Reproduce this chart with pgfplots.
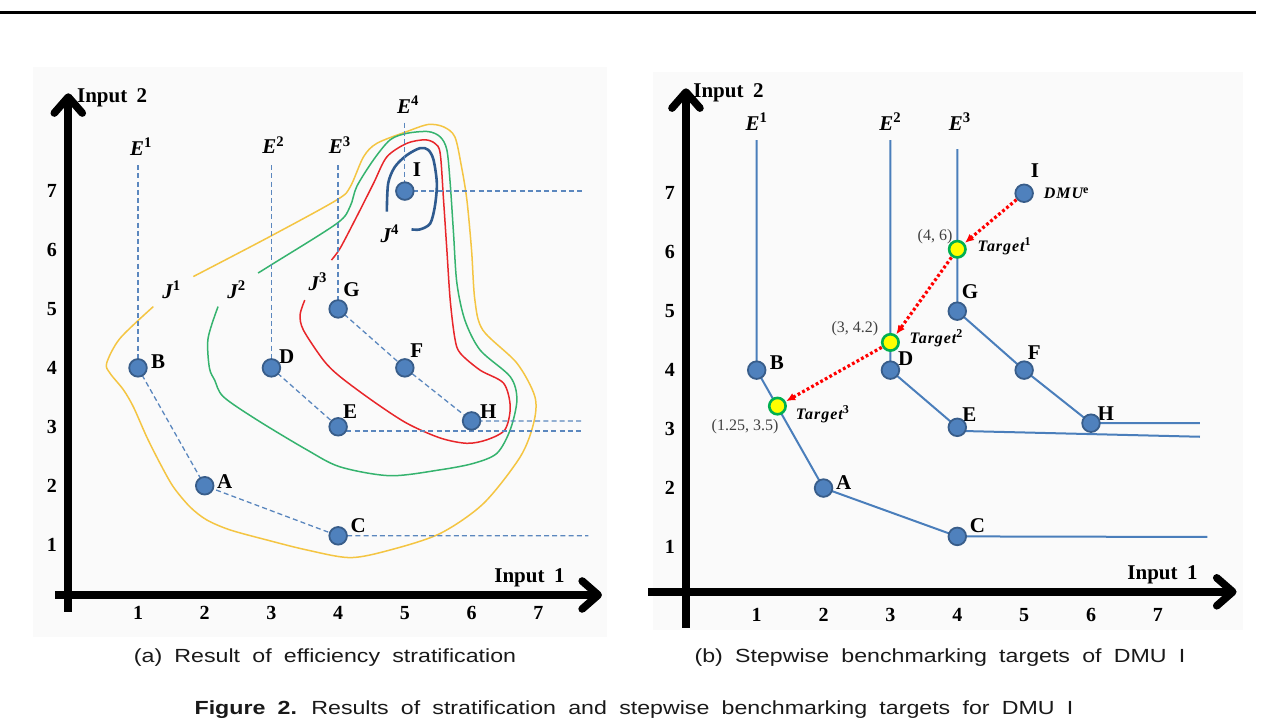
\documentclass[border=0pt]{standalone}
\usepackage{pgfplots}
\pgfplotsset{compat=1.18}
\usetikzlibrary{arrows.meta}
\usepackage{fontspec}
\setmainfont{Liberation Serif}
\newfontfamily\capfont{Liberation Sans}[FakeStretch=1.22, WordSpace=1.9]
\newfontfamily\tgtfont{Liberation Serif}[LetterSpace=6]
\definecolor{ptfill}{HTML}{4F81BD}
\definecolor{ptdraw}{HTML}{385D8A}
\definecolor{dashc}{HTML}{5B87BE}
\definecolor{lineb}{HTML}{4A7EBB}
\definecolor{cJa}{HTML}{F4C542}
\definecolor{cJb}{HTML}{35B36E}
\definecolor{cJc}{HTML}{E8262A}
\definecolor{cJd}{HTML}{2F5B8F}
\definecolor{bgc}{HTML}{FAFAFA}
\definecolor{tgfill}{HTML}{FFFF00}
\definecolor{tgdraw}{HTML}{00B050}
\newcommand\lbl{\fontsize{10.5}{12}\selectfont\bfseries}
\newcommand\elbl{\fontsize{10.5}{12}\selectfont\bfseries\itshape}
\newcommand\tlbl{\tgtfont\fontsize{8}{9.5}\selectfont\bfseries\itshape}
\newcommand\clbl{\fontsize{8}{9}\selectfont\color{black!75}}
\tikzset{bigax/.style={line width=3.8pt, -{Straight Barb[length=8pt,width=14pt,round]}}}
\pgfplotsset{
  panel/.style={scale only axis, xmin=0, xmax=8, ymin=0, ymax=9, clip=false,
    axis lines=left, axis line style={draw=none}, major tick length=0pt,
    xtick={1,...,7}, ytick={1,...,7},
    ticklabel style={font=\fontsize{10}{12}\selectfont\bfseries},
    /pgf/number format/assume math mode=true,
    xticklabel style={anchor=center}, yticklabel style={anchor=center},
    anchor=south west},
  pts/.style={only marks, mark=*, mark size=4.4pt,
    mark options={fill=ptfill, draw=ptdraw, line width=0.9pt}},
  tgt/.style={only marks, mark=*, mark size=4.1pt,
    mark options={fill=tgfill, draw=tgdraw, line width=1.3pt}},
  dsh/.style={dashc, line width=0.65pt, dash pattern=on 2.5pt off 1.6pt},
  sol/.style={lineb, line width=1pt},
  rarr/.style={red, line width=1.6pt, dash pattern=on 1.4pt off 1.2pt,
    -{Latex[length=4.5pt,width=4pt]}, shorten <=5pt, shorten >=5pt},
}
\begin{document}
\begin{tikzpicture}[x=0.5pt,y=0.5pt]
\path (0,0) rectangle (1275,727);
\fill (0,713) rectangle (1256,716);
\fill[bgc] (33,90) rectangle (607,660);
\fill[bgc] (653,97) rectangle (1243,655);

% ---------------- panel (a) ----------------
\begin{axis}[panel, at={(35.65pt,61.7pt)}, width=266.84pt, height=265.185pt,
  xticklabel style={yshift=-4.7pt}, yticklabel style={xshift=-9.65pt}]
\draw[bigax] (axis cs:-0.045,-0.14) -- (axis cs:-0.045,8.66);
\draw[bigax] (axis cs:-0.244,0.146) -- (axis cs:7.955,0.146);
% J curves
\addplot[cJa, line width=0.75pt, smooth] coordinates {
 (1.23,5.04) (0.73,4.50) (0.53,4.08) (0.58,3.91) (0.78,3.63) (0.93,3.34)
 (1.13,2.83) (1.33,2.38) (1.53,1.98) (1.78,1.64) (2.03,1.42) (2.38,1.25)
 (2.93,1.08) (3.53,0.91) (4.18,0.78) (4.78,0.91) (5.53,1.19) (6.18,1.70)
 (6.73,2.49) (6.93,3.06) (6.95,3.51) (6.68,4.08) (6.17,4.64) (6.05,5.15)
 (6.00,6.00) (5.93,6.85) (5.85,7.41) (5.75,7.92) (5.58,8.09) (5.35,8.13)
 (5.03,8.01) (4.58,7.81) (4.38,7.58) (4.18,7.07) (3.98,6.85) (2.98,6.23)
 (1.83,5.55)};
\addplot[cJb, line width=0.75pt, smooth] coordinates {
 (2.20,5.04) (2.05,4.50) (2.07,4.00) (2.15,3.79) (2.28,3.51) (2.78,3.12)
 (3.53,2.61) (4.03,2.32) (4.78,2.17) (5.53,2.27) (6.03,2.38) (6.38,2.55)
 (6.58,2.95) (6.68,3.46) (6.58,3.85) (6.13,4.30) (5.90,4.81) (5.78,5.44)
 (5.73,6.28) (5.68,7.13) (5.63,7.70) (5.53,7.92) (5.35,8.01) (5.03,7.98)
 (4.78,7.87) (4.53,7.53) (4.28,7.08) (4.18,6.74) (3.98,6.45) (3.00,5.75)
 (2.80,5.61)};
\addplot[cJc, line width=0.75pt, smooth] coordinates {
 (3.50,5.15) (3.43,4.90) (3.48,4.64) (3.78,4.13) (4.03,3.85) (4.53,3.43)
 (5.03,3.06) (5.53,2.81) (5.93,2.72) (6.23,2.78) (6.50,2.95) (6.58,3.34)
 (6.48,3.74) (6.13,3.96) (5.83,4.25) (5.75,4.50) (5.68,5.15) (5.63,6.00)
 (5.58,6.85) (5.53,7.64) (5.45,7.81) (5.30,7.87) (5.03,7.81) (4.73,7.58)
 (4.53,7.13) (4.28,6.57) (4.03,6.03) (3.90,5.83)};
\addplot[cJd, line width=1.3pt, smooth] coordinates {
 (4.73,6.65) (4.75,7.13) (4.85,7.41) (5.03,7.61) (5.23,7.73) (5.35,7.70)
 (5.43,7.53) (5.48,7.13) (5.45,6.74) (5.38,6.45) (5.23,6.35) (5.10,6.35)};
% dashed frontiers
\addplot[dsh] coordinates {(1,7.44) (1,4)};
\addplot[dsh] coordinates {(3,7.44) (3,4)};
\addplot[dsh] coordinates {(4,7.44) (4,5)};
\addplot[dsh] coordinates {(5,8.16) (5,7)};
\addplot[dsh] coordinates {(1,4) (2,2) (4,1.15) (7.75,1.15)};
\addplot[dsh] coordinates {(3,4) (4,3)};
\addplot[dsh] coordinates {(4,2.93) (7.67,2.93)};
\addplot[dsh] coordinates {(4,5) (5,4) (6,3.1) (7.67,3.1)};
\addplot[dsh] coordinates {(5,7) (7.67,7)};
% DMUs
\addplot[pts] coordinates {(2,2) (1,4) (4,1.15) (3,4) (4,3) (5,4) (4,5) (6,3.1) (5,7)};
% labels
\node[font=\lbl] at (axis cs:1.30,4.11) {B};
\node[font=\lbl] at (axis cs:2.30,2.07) {A};
\node[font=\lbl] at (axis cs:4.30,1.33) {C};
\node[font=\lbl] at (axis cs:3.23,4.19) {D};
\node[font=\lbl] at (axis cs:4.18,3.26) {E};
\node[font=\lbl] at (axis cs:5.18,4.30) {F};
\node[font=\lbl] at (axis cs:4.20,5.32) {G};
\node[font=\lbl] at (axis cs:6.25,3.26) {H};
\node[font=\lbl] at (axis cs:5.18,7.36) {I};
\node[font=\elbl] at (axis cs:1.05,7.75) {E\textsuperscript{\upshape 1}};
\node[font=\elbl] at (axis cs:3.03,7.78) {E\textsuperscript{\upshape 2}};
\node[font=\elbl] at (axis cs:4.03,7.78) {E\textsuperscript{\upshape 3}};
\node[font=\elbl] at (axis cs:5.05,8.46) {E\textsuperscript{\upshape 4}};
\node[font=\elbl] at (axis cs:1.505,5.32) {J\textsuperscript{\upshape 1}};
\node[font=\elbl] at (axis cs:2.48,5.32) {J\textsuperscript{\upshape 2}};
\node[font=\elbl] at (axis cs:3.70,5.46) {J\textsuperscript{\upshape 3}};
\node[font=\elbl] at (axis cs:4.78,6.28) {J\textsuperscript{\upshape 4}};
\node[font=\lbl, anchor=west, inner sep=0pt] at (axis cs:0.081,8.575) {Input\hspace{0.45em}2};
\node[font=\lbl, anchor=east, inner sep=0pt] at (axis cs:7.40,0.434) {Input\hspace{0.45em}1};
\end{axis}

% ---------------- panel (b) ----------------
\begin{axis}[panel, at={(344.925pt,60.51pt)}, width=267.44pt, height=265.32pt,
  xticklabel style={yshift=-4.5pt}, yticklabel style={xshift=-10pt}]
\draw[bigax] (axis cs:-0.058,-0.37) -- (axis cs:-0.058,8.78);
\draw[bigax] (axis cs:-0.626,0.24) -- (axis cs:8.177,0.24);
\addplot[sol] coordinates {(1,7.9) (1,4) (2,2) (4,1.18) (7.74,1.17)};
\addplot[sol] coordinates {(3,7.9) (3,4) (4,3.03)};
\addplot[sol] coordinates {(4,2.97) (7.63,2.87)};
\addplot[sol] coordinates {(4,7.75) (4,5) (5,4) (6,3.1) (7.63,3.1)};
\addplot[rarr] coordinates {(5,7) (4,6.05)};
\addplot[rarr] coordinates {(4,6.05) (3,4.47)};
\addplot[rarr] coordinates {(3,4.47) (1.31,3.39)};
\addplot[pts] coordinates {(2,2) (1,4) (4,1.18) (3,4) (4,3.03) (5,4) (4,5) (6,3.1) (5,7)};
\addplot[tgt] coordinates {(4,6.05) (3,4.47) (1.31,3.39)};
\node[font=\lbl] at (axis cs:1.30,4.12) {B};
\node[font=\lbl] at (axis cs:2.30,2.10) {A};
\node[font=\lbl] at (axis cs:4.30,1.36) {C};
\node[font=\lbl] at (axis cs:3.23,4.19) {D};
\node[font=\lbl] at (axis cs:4.18,3.24) {E};
\node[font=\lbl] at (axis cs:5.15,4.30) {F};
\node[font=\lbl] at (axis cs:4.19,5.33) {G};
\node[font=\lbl] at (axis cs:6.22,3.27) {H};
\node[font=\lbl] at (axis cs:5.16,7.39) {I};
\node[font=\elbl] at (axis cs:1.0,8.21) {E\textsuperscript{\upshape 1}};
\node[font=\elbl] at (axis cs:3.0,8.21) {E\textsuperscript{\upshape 2}};
\node[font=\elbl] at (axis cs:4.04,8.21) {E\textsuperscript{\upshape 3}};
\node[font=\tlbl, anchor=west, inner sep=0pt] at (axis cs:5.29,7.0) {DMU\textsuperscript{\upshape e}};
\node[font=\tlbl, anchor=west, inner sep=0pt] at (axis cs:4.30,6.105) {Target\textsuperscript{\upshape 1}};
\node[font=\tlbl, anchor=west, inner sep=0pt] at (axis cs:3.28,4.54) {Target\textsuperscript{\upshape 2}};
\node[font=\tlbl, anchor=west, inner sep=0pt] at (axis cs:1.58,3.256) {Target\textsuperscript{\upshape 3}};
\node[font=\clbl] at (axis cs:3.667,6.263) {(4, 6)};
\node[font=\clbl] at (axis cs:2.47,4.71) {(3, 4.2)};
\node[font=\clbl] at (axis cs:0.825,3.036) {(1.25, 3.5)};
\node[font=\lbl, anchor=west, inner sep=0pt] at (axis cs:0.047,8.70) {Input\hspace{0.45em}2};
\node[font=\lbl, anchor=east, inner sep=0pt] at (axis cs:7.60,0.525) {Input\hspace{0.45em}1};
\end{axis}

% captions
\node[font=\capfont\fontsize{9.5}{12}\selectfont, text=black!90] at (325,69) {(a) Result of efficiency stratification};
\node[font=\capfont\fontsize{9.5}{12}\selectfont, text=black!90] at (940,69) {(b) Stepwise benchmarking targets of DMU I};
\node[font=\capfont\fontsize{9.5}{12}\selectfont, text=black!90] at (634,17) {\textbf{Figure 2.} Results of stratification and stepwise benchmarking targets for DMU I};
\end{tikzpicture}
\end{document}
